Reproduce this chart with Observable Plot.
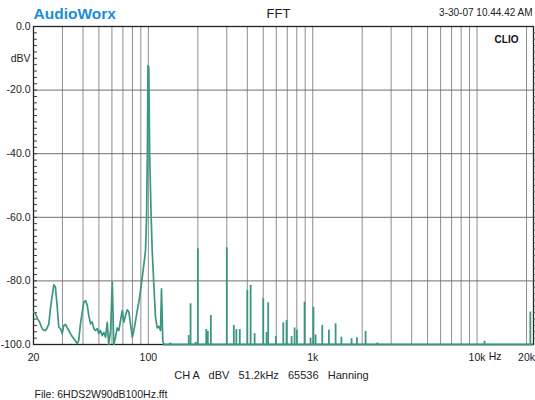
<!DOCTYPE html>
<html>
<head>
<meta charset="utf-8">
<script src="https://cdn.jsdelivr.net/npm/d3@7"></script>
<script src="https://cdn.jsdelivr.net/npm/@observablehq/plot@0.6"></script>
<style>
  html, body { margin: 0; padding: 0; background: #fff; }
  svg text { white-space: pre; }
</style>
</head>
<body>
<div id="chart"></div>
<script>
// Low-frequency noise trace incl. the 100 Hz fundamental (Hz, dBV)
const noiseFreq = [20.1, 20.6, 21.1, 21.8, 22.4, 22.9, 23.7, 24.2, 24.8, 25.4, 26.0, 26.6, 27.2, 27.9, 28.5, 29.2, 29.9,
  30.6, 31.3, 32.1, 32.8, 33.6, 34.4, 35.2, 36.9, 37.7, 38.6, 39.6, 40.5, 41.5, 42.5, 43.4, 44.5, 45.5, 46.6, 47.7,
  48.9, 49.9, 51.1, 52.4, 53.6, 54.9, 56.2, 57.4, 58.9, 60.3, 61.6, 63.1, 64.6, 66.1, 67.7, 69.3, 70.9, 72.6, 74.4,
  76.1, 77.9, 79.8, 81.6, 83.6, 85.6, 87.5, 89.6, 91.8, 93.8, 96.1, 97.5, 98.6, 99.4, 100.6, 101.8, 104.0, 105.5,
  107.9, 110.5, 113.2, 115.8, 118.6, 120.2, 122.4, 124.2];
const noiseDb = [-89.8, -90.4, -91.8, -93.0, -94.6, -95.4, -95.6, -94.8, -93.5, -88.3, -84.6, -81.2, -82.0, -88.3, -94.6, -95.0, -96.6,
  -94.0, -93.7, -94.8, -95.6, -96.6, -97.5, -98.2, -99.7, -98.7, -93.5, -89.8, -86.7, -86.2, -87.7, -90.9, -93.5, -92.9, -95.0, -95.6,
  -95.0, -96.6, -95.6, -97.2, -96.2, -97.7, -93.0, -100.0, -95.6, -80.4, -100.0, -97.7, -94.8, -95.6, -92.5, -89.3, -93.0, -90.9, -89.1,
  -89.8, -93.5, -97.7, -95.6, -92.5, -89.3, -86.7, -83.0, -78.8, -75.0, -70.4, -60.0, -40.0, -12.3, -13.0, -40.0, -60.0, -70.4,
  -80.9, -91.4, -94.8, -94.3, -95.6, -82.5, -99.0, -100.0];

// Discrete harmonic / spurious lines above the noise floor (Hz, dBV)
const spikeFreq = [136, 176, 180.6, 194, 200, 225, 230, 240, 300, 331, 343, 360, 400, 419, 443, 500, 524, 536, 597,
  662, 693, 744, 776, 801, 892, 970, 1010, 1041, 1143, 1254, 1378, 1495, 1724, 1858, 2098, 2471, 11100, 21100];
const spikeDb = [-99.5, -97.2, -87.2, -99.3, -69.9, -95.3, -95.9, -90.9, -69.6, -94.0, -95.3, -95.3, -83.0, -81.4, -96.6, -85.6, -96.2, -86.9, -97.5,
  -93.2, -92.5, -97.5, -94.8, -95.5, -86.7, -98.0, -88.3, -97.0, -94.0, -95.5, -93.5, -97.7, -98.2, -97.9, -95.9, -99.5, -99.0, -89.8];

const floorDb = -100;
const floorStart = 124.2;

const xDomain = [20, 22050];
const yDomain = [-100, 0];
const xGrid = [30, 40, 50, 60, 70, 80, 90, 100, 200, 300, 400, 500, 600, 700, 800, 900,
  1000, 2000, 3000, 4000, 5000, 6000, 7000, 8000, 9000, 10000, 20000];
const yGrid = [-20, -40, -60, -80];
const xTickValues = [20, 100, 1000, 10000, 20000];
const xTickLabels = ["20", "100", "1k", "10k", "20k"];
const yTickValues = [0, -20, -40, -60, -80, -100];
const yMinorTicks = d3.range(-98, 0, 2);

const title = "FFT";
const brand = "AudioWorx";
const stamp = "3-30-07 10.44.42 AM";
const badge = "CLIO";
const unitY = "dBV";
const unitX = "Hz";
const settings = "CH A   dBV   51.2kHz   65536   Hanning";
const fileName = "File: 6HDS2W90dB100Hz.fft";

const trace = noiseFreq.map((f, i) => ({f, db: noiseDb[i]}));
const spikes = spikeFreq.map((f, i) => ({f, db: spikeDb[i]}));
const teal = "#3b9682";
const tickShape = {draw(context, l) { context.moveTo(0, 0); context.lineTo(0, -l); }};

const chart = Plot.plot({
  width: 535,
  height: 400,
  marginLeft: 33,
  marginRight: 2,
  marginTop: 26,
  marginBottom: 56,
  style: {fontFamily: "'Liberation Sans', Arial, sans-serif", fontSize: "10.5px", color: "#222", background: "#fff"},
  x: {type: "log", domain: xDomain},
  y: {domain: yDomain},
  marks: [
    Plot.ruleX(xGrid, {stroke: "#8f8f8f", strokeWidth: 1}),
    Plot.ruleY(yGrid, {stroke: "#707070", strokeWidth: 1}),
    Plot.frame({stroke: "#222", strokeWidth: 1.3}),
    Plot.vector(yMinorTicks, {y: d => d, frameAnchor: "left", rotate: 90, length: 3, anchor: "start", shape: tickShape, stroke: "#333", strokeWidth: 1}),
    Plot.vector(yMinorTicks, {y: d => d, frameAnchor: "right", rotate: 90, length: 2, anchor: "start", shape: tickShape, stroke: "#555", strokeWidth: 1}),
    Plot.axisY({ticks: yTickValues, tickSize: 0, tickPadding: 3, tickFormat: d => d.toFixed(1), label: null, fontSize: 10.5}),
    Plot.axisX({ticks: xTickValues, tickSize: 0, tickPadding: 9, tickFormat: d => xTickLabels[xTickValues.indexOf(d)], label: null, fontSize: 10.5}),
    Plot.ruleX(spikes, {x: "f", y1: floorDb, y2: "db", stroke: teal, strokeWidth: 1.8}),
    Plot.ruleY([floorDb], {x1: floorStart, x2: xDomain[1], stroke: teal, strokeWidth: 2}),
    Plot.line(trace, {x: "f", y: "db", stroke: teal, strokeWidth: 1.7}),
    Plot.text([unitY], {y: () => -10, frameAnchor: "left", dx: -3, textAnchor: "end", fontSize: 10.5, fill: "#222"}),
    Plot.text([brand], {frameAnchor: "top-left", dx: 0, dy: -19, textAnchor: "start", fontSize: 15.5, fontWeight: "bold", fill: "#1a8cdc"}),
    Plot.text([title], {frameAnchor: "top", dx: -5, dy: -18, fontSize: 13, fill: "#222"}),
    Plot.text([stamp], {frameAnchor: "top-right", dx: -1, dy: -17.5, textAnchor: "end", fontSize: 10, fill: "#222"}),
    Plot.text([badge], {frameAnchor: "top-right", dx: -15, dy: 9, textAnchor: "end", fontSize: 10, fontWeight: "bold", fill: "#111"}),
    Plot.text([unitX], {frameAnchor: "bottom-right", dx: -32, dy: 15, fontSize: 10.5, fill: "#222"}),
    Plot.text([settings], {frameAnchor: "bottom", dx: -12, dy: 34.5, fontSize: 11, fill: "#222"}),
    Plot.text([fileName], {frameAnchor: "bottom-left", dx: 1, dy: 53, textAnchor: "start", fontSize: 10.5, fill: "#222"})
  ]
});
document.getElementById("chart").appendChild(chart);
</script>
</body>
</html>
